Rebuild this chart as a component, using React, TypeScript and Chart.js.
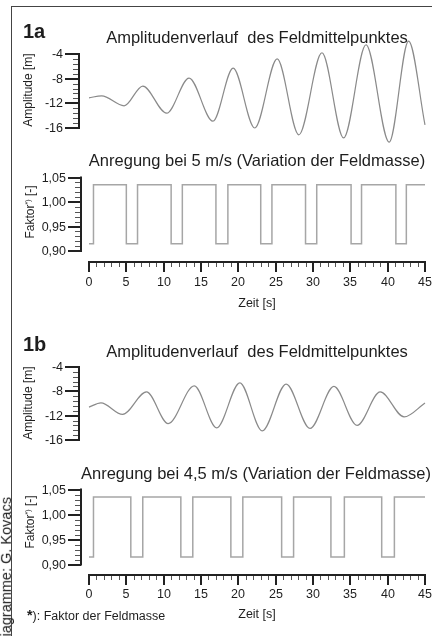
import React, { useEffect, useRef } from "react";
import { Chart, registerables } from "chart.js";

Chart.register(...registerables);

const FONT = "'Liberation Sans', Arial, sans-serif";

// ---------- data ----------
// 1a: amplitude of field midpoint (extremes)
const amp1aTime = [0, 1.7, 4.7, 7.2, 10.4, 13.4, 16.6, 19.3, 22.2, 25.2, 28.1, 31.2, 34.1, 37.1, 40.2, 42.8, 45];
const amp1aValue = [-11.1, -10.8, -12.4, -9.2, -13.6, -7.9, -14.9, -6.3, -16.0, -4.8, -17.1, -3.8, -17.6, -2.5, -18.3, -1.9, -15.5];

// 1a: excitation factor (level holds from each time until the next)
const exc1aTime = [0, 0.6, 5.0, 6.5, 11.0, 12.5, 17.0, 18.6, 23.0, 24.5, 29.0, 30.5, 35.1, 36.5, 41.1, 42.5, 45];
const exc1aFactor = [0.915, 1.035, 0.915, 1.035, 0.915, 1.035, 0.915, 1.035, 0.915, 1.035, 0.915, 1.035, 0.915, 1.035, 0.915, 1.035, 1.035];

// 1b: amplitude of field midpoint
const amp1bTime = [0, 1.6, 4.5, 7.7, 10.6, 14.1, 17.1, 20.2, 23.2, 26.4, 29.6, 32.8, 35.9, 39.0, 42.2, 45];
const amp1bValue = [-10.6, -9.9, -11.8, -8.1, -13.3, -7.1, -14.0, -6.6, -14.5, -6.8, -14.1, -7.2, -13.6, -8.1, -12.2, -9.9];

// 1b: excitation factor
const exc1bTime = [0, 0.6, 5.6, 7.2, 12.3, 13.9, 19.0, 20.6, 25.8, 27.4, 32.4, 34.2, 39.2, 40.9, 45];
const exc1bFactor = [0.915, 1.035, 0.915, 1.035, 0.915, 1.035, 0.915, 1.035, 0.915, 1.035, 0.915, 1.035, 0.915, 1.035, 1.035];

// ticks
const ampTicks = [-4, -8, -12, -16];
const ampTickLabels = ["-4", "-8", "-12", "-16"];
const factorTicks = [1.05, 1.0, 0.95, 0.9];
const factorTickLabels = ["1,05", "1,00", "0,95", "0,90"];
const timeTicks = [0, 5, 10, 15, 20, 25, 30, 35, 40, 45];
const timeTickLabels = ["0", "5", "10", "15", "20", "25", "30", "35", "40", "45"];

const W = 432;
const H = 636;

// ---------- custom axis plugin ----------
const axisPlugin = {
  id: "customAxes",
  afterDatasetsDraw(chart: any, _args: any, opts: any) {
    const ctx = chart.ctx as CanvasRenderingContext2D;
    const xs = chart.scales.x;
    const ys = chart.scales.y;
    const seg = (x1: number, y1: number, x2: number, y2: number) => {
      ctx.beginPath();
      ctx.moveTo(x1, y1);
      ctx.lineTo(x2, y2);
      ctx.stroke();
    };
    ctx.save();
    ctx.font = `12.5px ${FONT}`;
    ctx.fillStyle = "#1e1e1e";
    if (opts.y) {
      const o = opts.y;
      const isMajor = (v: number) => o.ticks.some((t: number) => Math.abs(t - v) < 1e-6);
      const n = Math.round((o.max - o.min) / o.minorStep);
      ctx.strokeStyle = "#555";
      ctx.lineWidth = 1;
      for (let i = 0; i <= n; i++) {
        const v = o.min + i * o.minorStep;
        if (isMajor(v)) continue;
        const p = Math.round(ys.getPixelForValue(v)) + 0.5;
        seg(o.x - o.minorLen, p, o.x, p);
      }
      ctx.strokeStyle = "#222";
      ctx.lineWidth = 2;
      ctx.textAlign = "right";
      ctx.textBaseline = "middle";
      o.ticks.forEach((v: number, i: number) => {
        const p = Math.round(ys.getPixelForValue(v));
        seg(o.x - o.majorLen, p, o.x, p);
        ctx.fillText(o.labels[i], o.x - o.majorLen - 2, p + 0.5);
      });
      const top = ys.getPixelForValue(o.max);
      const bot = ys.getPixelForValue(o.min);
      seg(o.x, top - 1, o.x, bot + 1);
    }
    if (opts.x) {
      const o = opts.x;
      const isMajor = (v: number) => o.ticks.some((t: number) => Math.abs(t - v) < 1e-6);
      const n = Math.round((o.max - o.min) / o.minorStep);
      ctx.strokeStyle = "#555";
      ctx.lineWidth = 1;
      for (let i = 0; i <= n; i++) {
        const v = o.min + i * o.minorStep;
        if (isMajor(v)) continue;
        const p = Math.round(xs.getPixelForValue(v)) + 0.5;
        seg(p, o.y, p, o.y + o.minorLen);
      }
      ctx.strokeStyle = "#222";
      ctx.lineWidth = 2;
      ctx.textAlign = "center";
      ctx.textBaseline = "middle";
      o.ticks.forEach((v: number, i: number) => {
        const p = Math.round(xs.getPixelForValue(v));
        seg(p, o.y, p, o.y + o.majorLen);
        ctx.fillText(o.labels[i], p, o.labelY);
      });
      const l = xs.getPixelForValue(o.min);
      const r = xs.getPixelForValue(o.max);
      seg(l - 1, o.y, r + 1, o.y);
    }
    ctx.restore();
  },
};

type PanelProps = {
  times: number[];
  values: number[];
  stepped: boolean;
  color: string;
  width: number;
  yMin: number;
  yMax: number;
  top: number;
  bottom: number;
  axes: any;
};

function Panel(p: PanelProps) {
  const ref = useRef<HTMLCanvasElement | null>(null);
  useEffect(() => {
    if (!ref.current) return;
    const chart = new Chart(ref.current, {
      type: "line",
      data: {
        datasets: [
          {
            data: p.times.map((t, i) => ({ x: t, y: p.values[i] })),
            borderColor: p.color,
            borderWidth: p.width,
            pointRadius: 0,
            fill: false,
            clip: false as any,
            stepped: p.stepped ? ("before" as any) : false,
            cubicInterpolationMode: p.stepped ? "default" : "monotone",
          } as any,
        ],
      },
      options: {
        animation: false,
        responsive: false,
        maintainAspectRatio: false,
        devicePixelRatio: 1,
        events: [],
        layout: { padding: { left: 89, right: W - 425, top: p.top, bottom: H - p.bottom } },
        scales: {
          x: { type: "linear", min: 0, max: 45, display: false },
          y: { type: "linear", min: p.yMin, max: p.yMax, display: false },
        },
        plugins: {
          legend: { display: false },
          tooltip: { enabled: false },
          customAxes: p.axes,
        } as any,
      },
      plugins: [axisPlugin],
    });
    return () => chart.destroy();
  }, []);
  return (
    <canvas
      ref={ref}
      width={W}
      height={H}
      style={{ position: "absolute", left: 0, top: 0, width: W, height: H }}
    />
  );
}

type TextProps = {
  x: number;
  y: number;
  size: number;
  anchor?: "left" | "center";
  bold?: boolean;
  children: React.ReactNode;
};

function Txt({ x, y, size, anchor = "center", bold = false, children }: TextProps) {
  const tx = anchor === "center" ? "-50%" : "0";
  return (
    <div
      style={{
        position: "absolute",
        left: x,
        top: y,
        fontSize: size,
        fontWeight: bold ? 700 : 400,
        whiteSpace: "nowrap",
        lineHeight: "normal",
        transform: `translate(${tx}, -50%)`,
      }}
    >
      {children}
    </div>
  );
}

function RotTxt({ x, y, size, children }: { x: number; y: number; size: number; children: React.ReactNode }) {
  return (
    <div
      style={{
        position: "absolute",
        left: x,
        top: y,
        fontSize: size,
        whiteSpace: "nowrap",
        transform: "translate(-50%, -50%) rotate(-90deg)",
      }}
    >
      {children}
    </div>
  );
}

const ampAxis = (x: number) => ({
  y: { x, min: -16, max: -4, ticks: ampTicks, labels: ampTickLabels, minorStep: 0.8, majorLen: 14, minorLen: 6 },
});
const facAxis = (x: number, axisY: number, labelY: number) => ({
  y: { x, min: 0.9, max: 1.05, ticks: factorTicks, labels: factorTickLabels, minorStep: 0.01, majorLen: 13, minorLen: 6 },
  x: { y: axisY, labelY, min: 0, max: 45, ticks: timeTicks, labels: timeTickLabels, minorStep: 1, majorLen: 10, minorLen: 5 },
});

const Faktor = () => (
  <span>
    Faktor<sup style={{ fontSize: "0.6em", verticalAlign: "0.6em" }}>*)</sup> [-]
  </span>
);

export default function App() {
  return (
    <div
      style={{
        position: "absolute",
        left: 0,
        top: 0,
        width: W,
        height: H,
        overflow: "hidden",
        background: "#fff",
        fontFamily: FONT,
        color: "#1e1e1e",
      }}
    >
      {/* frame */}
      <div style={{ position: "absolute", left: 12, top: 6, width: W - 12, height: 0, borderTop: "1.5px solid #444" }} />
      <div style={{ position: "absolute", left: 11, top: 6, width: 0, height: H - 6, borderLeft: "1.5px solid #444" }} />

      <Panel times={amp1aTime} values={amp1aValue} stepped={false} color="#8a8a8a" width={1.2} yMin={-16} yMax={-4} top={54} bottom={128} axes={ampAxis(79)} />
      <Panel times={exc1aTime} values={exc1aFactor} stepped={true} color="#a6a6a6" width={1.5} yMin={0.9} yMax={1.05} top={177.5} bottom={251} axes={facAxis(81, 262, 283)} />
      <Panel times={amp1bTime} values={amp1bValue} stepped={false} color="#8a8a8a" width={1.2} yMin={-16} yMax={-4} top={367} bottom={440} axes={ampAxis(79)} />
      <Panel times={exc1bTime} values={exc1bFactor} stepped={true} color="#a6a6a6" width={1.5} yMin={0.9} yMax={1.05} top={489.5} bottom={564.5} axes={facAxis(81, 575, 595)} />

      {/* 1a texts */}
      <Txt x={23} y={31} size={20} bold anchor="left">1a</Txt>
      <Txt x={257} y={37} size={16.5}>Amplitudenverlauf&nbsp; des Feldmittelpunktes</Txt>
      <RotTxt x={28} y={90} size={12}>Amplitude [m]</RotTxt>
      <Txt x={257} y={160} size={16.5}>Anregung bei 5 m/s (Variation der Feldmasse)</Txt>
      <RotTxt x={30} y={212} size={12}><Faktor /></RotTxt>
      <Txt x={257} y={303} size={12.5}>Zeit [s]</Txt>

      {/* 1b texts */}
      <Txt x={23} y={344} size={20} bold anchor="left">1b</Txt>
      <Txt x={257} y={351} size={16.5}>Amplitudenverlauf&nbsp; des Feldmittelpunktes</Txt>
      <RotTxt x={28} y={403} size={12}>Amplitude [m]</RotTxt>
      <Txt x={256} y={473} size={16.5}>Anregung bei 4,5 m/s (Variation der Feldmasse)</Txt>
      <RotTxt x={30} y={522} size={12}><Faktor /></RotTxt>
      <Txt x={257} y={614} size={12.5}>Zeit [s]</Txt>
      <Txt x={27} y={615} size={12.5} anchor="left"><b style={{ fontSize: "1.15em" }}>*</b>): Faktor der Feldmasse</Txt>

      {/* credit, reading bottom to top, cut at the bottom edge */}
      <div
        style={{
          position: "absolute",
          right: W + 2,
          top: 497,
          fontSize: 14.5,
          whiteSpace: "nowrap",
          lineHeight: "16px",
          transformOrigin: "100% 0%",
          transform: "rotate(-90deg)",
        }}
      >
        Diagramme: G. Kovacs
      </div>
    </div>
  );
}
